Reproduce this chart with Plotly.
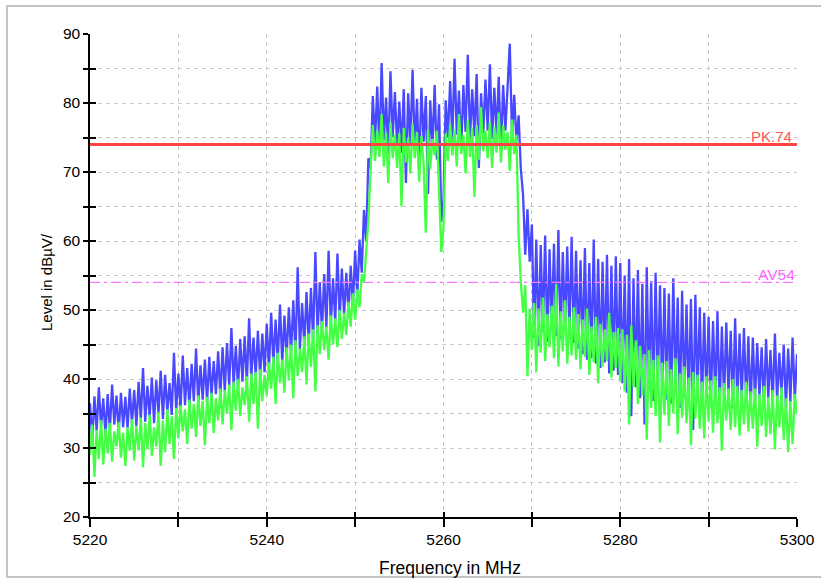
import plotly.graph_objects as go

# frequency grid start/step (MHz)
F_START = 5220.0
F_STEP = 0.25

# Peak trace (blue), dBµV, 5 MHz per row
peak_rows = [
    [36.5, 31.0, 37.5, 32.5, 38.8, 33.0, 37.2, 31.8, 37.8, 32.6, 39.2, 33.4, 37.6, 32.2, 38.0, 33.0, 37.4, 32.8, 38.6, 33.5],
    [38.4, 33.2, 39.6, 34.0, 41.6, 33.8, 39.0, 34.4, 40.2, 33.6, 39.8, 35.0, 41.2, 34.2, 40.6, 35.2, 39.4, 34.8, 43.8, 35.4],
    [40.8, 35.6, 43.4, 36.2, 41.6, 35.8, 42.2, 36.8, 44.4, 36.4, 42.0, 37.0, 42.8, 36.6, 43.2, 37.4, 42.6, 37.8, 44.0, 37.2],
    [44.6, 38.2, 45.2, 38.8, 47.4, 39.0, 44.8, 38.6, 45.8, 39.6, 46.2, 39.2, 48.8, 40.0, 46.0, 40.4, 47.0, 40.2, 46.6, 41.0],
    [48.0, 41.4, 49.6, 42.0, 48.6, 42.6, 50.8, 42.2, 49.2, 43.0, 50.4, 43.6, 51.4, 43.4, 56.2, 44.2, 51.0, 44.8, 52.6, 45.0],
    [53.2, 45.6, 58.4, 46.4, 54.0, 46.8, 55.2, 47.4, 58.6, 47.8, 54.6, 48.2, 58.2, 48.6, 56.0, 49.2, 55.4, 49.6, 56.4, 50.6],
    [58.6, 52.0, 60.2, 55.4, 64.5, 60.0, 72.0, 70.5, 81.0, 74.2, 82.4, 73.0, 85.8, 74.6, 80.8, 72.4, 84.6, 75.0, 81.6, 73.8],
    [80.2, 72.8, 82.0, 68.4, 81.4, 74.0, 84.8, 73.4, 80.6, 70.2, 82.2, 74.4, 81.0, 66.8, 80.4, 73.6, 82.6, 71.8, 79.8, 62.8],
    [66.0, 80.4, 75.0, 83.2, 74.6, 86.4, 75.4, 81.8, 73.2, 82.6, 75.8, 87.0, 74.8, 82.0, 75.2, 84.2, 70.6, 81.4, 75.6, 83.4],
    [76.0, 85.6, 74.8, 82.2, 75.4, 83.8, 72.8, 82.6, 76.0, 81.8, 88.6, 75.2, 81.2, 74.4, 78.2, 70.4, 66.8, 58.0, 64.6, 57.0],
    [62.4, 46.0, 60.2, 44.8, 59.4, 46.8, 60.8, 45.4, 58.8, 47.2, 59.6, 46.2, 61.6, 45.8, 58.4, 47.0, 59.2, 46.4, 60.6, 45.2],
    [58.6, 44.4, 57.2, 43.6, 59.0, 42.8, 56.8, 43.0, 60.2, 42.2, 57.4, 41.6, 57.0, 42.4, 58.0, 40.8, 56.4, 41.2, 57.8, 40.6],
    [56.8, 39.4, 55.0, 38.0, 57.4, 34.6, 54.6, 38.8, 55.8, 37.2, 53.8, 33.4, 56.2, 38.4, 54.2, 36.8, 55.4, 39.0, 53.6, 37.6],
    [53.2, 37.0, 52.4, 36.4, 54.6, 38.2, 51.8, 35.8, 52.8, 37.4, 50.8, 36.6, 51.6, 32.6, 52.2, 37.8, 50.4, 36.2, 49.6, 37.0],
    [49.0, 36.4, 48.4, 37.2, 49.8, 35.6, 47.6, 36.8, 48.2, 37.6, 47.0, 35.8, 48.8, 36.2, 46.6, 37.0, 47.4, 36.6, 46.2, 35.4],
    [46.0, 36.8, 45.2, 37.4, 44.6, 36.0, 45.8, 37.2, 44.2, 36.4, 46.6, 36.8, 43.8, 37.6, 45.0, 35.8, 44.4, 36.6, 46.0, 37.0],
    [43.6],
]

# Average trace (green), dBµV, 5 MHz per row
avg_rows = [
    [29.0, 33.4, 25.8, 32.6, 28.4, 34.0, 27.6, 32.8, 29.2, 33.6, 28.0, 32.4, 30.2, 33.8, 28.6, 32.2, 27.4, 33.0, 29.6, 34.2],
    [28.2, 33.2, 29.6, 34.4, 27.2, 33.6, 29.8, 34.8, 28.8, 33.0, 30.2, 35.2, 27.4, 34.0, 29.4, 35.6, 30.6, 34.6, 28.4, 35.8],
    [31.4, 36.2, 32.4, 35.6, 30.6, 37.0, 32.8, 36.4, 31.6, 37.6, 33.2, 36.8, 30.4, 37.4, 33.6, 38.0, 32.2, 37.2, 34.0, 38.6],
    [33.4, 38.4, 35.0, 39.2, 32.6, 39.6, 35.4, 40.0, 34.6, 38.8, 36.2, 40.4, 33.8, 40.8, 36.4, 41.0, 32.8, 41.4, 36.8, 40.6],
    [37.6, 42.4, 38.6, 43.2, 36.4, 43.8, 39.4, 42.8, 38.0, 44.6, 39.8, 45.0, 37.2, 45.6, 40.4, 44.4, 41.0, 46.2, 39.2, 46.6],
    [41.8, 47.2, 38.2, 47.8, 43.6, 48.4, 44.2, 47.6, 42.8, 49.2, 45.0, 48.8, 44.6, 50.0, 45.8, 49.6, 46.4, 51.2, 47.6, 52.4],
    [48.6, 53.0, 50.4, 55.2, 54.0, 58.6, 63.0, 70.4, 76.8, 71.6, 76.0, 72.2, 78.4, 70.8, 75.8, 68.4, 77.2, 72.0, 75.4, 70.6],
    [75.6, 65.0, 76.4, 71.4, 75.0, 69.8, 77.0, 72.0, 75.8, 68.6, 75.2, 71.2, 61.2, 76.2, 70.4, 74.8, 72.4, 76.0, 66.6, 58.4],
    [62.0, 75.6, 71.6, 77.0, 72.4, 76.2, 70.8, 78.4, 72.6, 75.4, 69.8, 77.6, 72.2, 76.4, 66.4, 76.8, 71.8, 79.4, 73.0, 76.0],
    [72.0, 77.2, 70.6, 76.6, 72.8, 78.6, 71.4, 76.8, 73.2, 75.8, 70.2, 77.6, 72.6, 75.4, 60.8, 54.0, 49.6, 53.6, 40.4, 50.2],
    [44.2, 51.0, 41.0, 50.2, 43.8, 51.8, 42.6, 49.4, 44.6, 50.6, 43.0, 53.8, 41.8, 49.8, 44.0, 51.4, 42.2, 49.0, 43.4, 50.4],
    [42.8, 49.4, 41.4, 48.6, 43.2, 50.2, 40.6, 47.6, 42.4, 49.0, 39.4, 48.0, 41.8, 47.2, 42.6, 49.6, 40.2, 46.8, 41.6, 47.4],
    [39.6, 47.2, 38.2, 46.4, 33.4, 47.8, 38.8, 45.6, 36.4, 44.8, 37.6, 43.6, 31.2, 44.2, 35.8, 42.8, 34.6, 43.4, 30.8, 42.4],
    [34.8, 42.6, 33.2, 41.4, 35.0, 43.0, 32.0, 40.8, 34.4, 41.8, 33.6, 40.2, 30.4, 41.0, 34.2, 40.6, 32.8, 39.6, 31.4, 40.4],
    [33.8, 39.8, 32.2, 40.4, 33.6, 38.8, 29.6, 39.4, 34.0, 38.6, 32.6, 40.0, 33.0, 39.0, 31.8, 38.4, 33.4, 39.6, 32.4, 38.2],
    [32.8, 38.6, 30.2, 37.8, 33.2, 39.0, 31.6, 37.4, 32.0, 38.4, 29.8, 37.6, 33.0, 38.8, 31.2, 37.2, 29.4, 36.8, 30.6, 37.8],
    [35.0],
]

# limit lines
pk_limit = 74
av_limit = 54
pk_label = "PK.74"
av_label = "AV54"

# axis ticks
y_ticks = [20, 25, 30, 35, 40, 45, 50, 55, 60, 65, 70, 75, 80, 85, 90]
y_labels = ["20", "", "30", "", "40", "", "50", "", "60", "", "70", "", "80", "", "90"]
x_ticks = [5220, 5230, 5240, 5250, 5260, 5270, 5280, 5290, 5300]
x_labels = ["5220", "", "5240", "", "5260", "", "5280", "", "5300"]

peak = [v for r in peak_rows for v in r]
avg = [v for r in avg_rows for v in r]
freq_p = [F_START + i * F_STEP for i in range(len(peak))]
freq_a = [F_START + i * F_STEP for i in range(len(avg))]

FONT = "Liberation Sans, Arial, sans-serif"

# figure geometry (page body margin removed via post_script)
W, H = 821, 578
L, R, T, B = 90, 24, 34, 61
PW, PH = W - L - R, H - T - B


def px(xp):
    return (xp - L) / PW


def py(yp):
    return (H - B - yp) / PH


fig = go.Figure()
fig.add_trace(go.Scatter(x=freq_p, y=peak, mode="lines",
                         line=dict(color="#4848ff", width=2.3), hoverinfo="skip"))
fig.add_trace(go.Scatter(x=freq_a, y=avg, mode="lines",
                         line=dict(color="#44ff44", width=2.3), hoverinfo="skip"))
fig.add_trace(go.Scatter(x=[5220, 5300], y=[pk_limit, pk_limit], mode="lines",
                         line=dict(color="#ff4444", width=3), hoverinfo="skip"))
fig.add_trace(go.Scatter(x=[5220, 5300], y=[av_limit, av_limit], mode="lines",
                         line=dict(color="#ff77ff", width=1.3, dash="10px,4px,3px,4px"),
                         hoverinfo="skip"))
fig.add_trace(go.Scatter(x=[5220], y=[20], xaxis="x2", yaxis="y2", mode="markers",
                         marker=dict(opacity=0), hoverinfo="skip"))

grid = dict(showgrid=True, gridcolor="#c8c8c8", griddash="4px,4px", gridwidth=1)

fig.update_layout(
    width=W, height=H,
    margin=dict(l=L, r=R, t=T, b=B, autoexpand=False),
    paper_bgcolor="white", plot_bgcolor="white",
    showlegend=False,
    font=dict(family=FONT, size=15.5, color="black"),
    xaxis=dict(range=[5220, 5300], tickvals=x_ticks, ticktext=x_labels,
               ticks="outside", ticklen=8, tickwidth=1.5, tickcolor="black",
               showline=True, linecolor="black", linewidth=1.5, automargin=False,
               zeroline=False, tickfont=dict(size=15.5, family=FONT), **grid),
    yaxis=dict(range=[20, 90], tickvals=y_ticks, ticktext=y_labels,
               ticks="outside", ticklen=5, tickwidth=1.5, tickcolor="black",
               showline=True, linecolor="black", linewidth=1.5, automargin=False,
               zeroline=False, tickfont=dict(size=15.5, family=FONT), **grid),
    xaxis2=dict(range=[5220, 5300], tickvals=x_ticks, overlaying="x", anchor="y",
                side="bottom", ticks="inside", ticklen=5, tickwidth=1.5,
                tickcolor="black", showticklabels=False, showgrid=False,
                showline=False, zeroline=False, automargin=False),
    yaxis2=dict(range=[20, 90], tickvals=y_ticks, overlaying="y", anchor="x",
                side="left", ticks="inside", ticklen=6, tickwidth=1.5,
                tickcolor="black", showticklabels=False, showgrid=False,
                showline=False, zeroline=False, automargin=False),
)

# outer frame
fig.add_shape(type="rect", xref="paper", yref="paper",
              x0=px(7), x1=px(W + 20), y0=py(577), y1=py(6),
              line=dict(color="#c4c4c4", width=2), layer="below")

# limit labels
fig.add_annotation(x=5300, y=pk_limit, xref="x", yref="y", text=pk_label,
                   showarrow=False, xanchor="right", yanchor="bottom", yshift=-3, xshift=-3,
                   font=dict(color="#ff5555", size=15, family=FONT))
fig.add_annotation(x=5300, y=av_limit, xref="x", yref="y", text=av_label,
                   showarrow=False, xanchor="right", yanchor="bottom", yshift=-3,
                   font=dict(color="#ff66ff", size=15.5, family=FONT))

# axis titles
fig.add_annotation(x=px(46), y=py(282), xref="paper", yref="paper",
                   text="Level in dBµV/", textangle=-90, showarrow=False,
                   xanchor="center", yanchor="middle",
                   font=dict(size=15, family=FONT, color="black"))
fig.add_annotation(x=px(450), y=py(556), xref="paper", yref="paper",
                   text="Frequency in MHz", showarrow=False,
                   xanchor="center", yanchor="top",
                   font=dict(size=17.5, family=FONT, color="black"))

fig.write_html(
    "out.html",
    config={"displayModeBar": False},
    post_script="document.body.style.margin='0';document.body.style.overflow='hidden';",
)
